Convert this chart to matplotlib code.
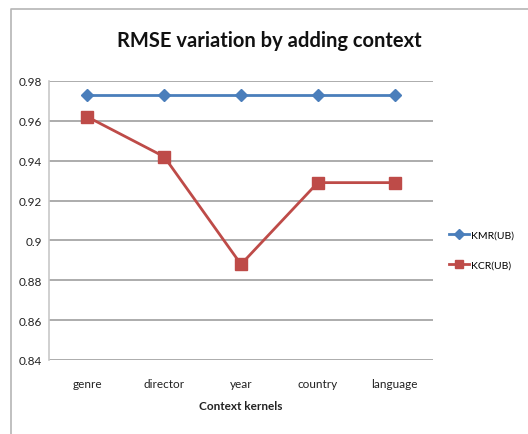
import matplotlib.pyplot as plt
from matplotlib.lines import Line2D

plt.rcParams['font.family'] = ['Lato', 'DejaVu Sans']

categories = ['genre', 'director', 'year', 'country', 'language']
kmr_ub = [0.973, 0.973, 0.973, 0.973, 0.973]
kcr_ub = [0.962, 0.942, 0.888, 0.929, 0.929]
yticks = [0.84, 0.86, 0.88, 0.9, 0.92, 0.94, 0.96, 0.98]
ytick_labels = ['0.84', '0.86', '0.88', '0.9', '0.92', '0.94', '0.96', '0.98']

W, H = 528, 435
fig = plt.figure(figsize=(W / 100, H / 100), dpi=100)
ax = fig.add_axes([49 / W, 1 - 361 / H, (433 - 49) / W, (361 - 82) / H])

x = range(len(categories))
ax.plot(x, kmr_ub, color='#4a7ebb', lw=2, marker='D', ms=6, label='KMR(UB)')
ax.plot(x, kcr_ub, color='#be4b48', lw=2, marker='s', ms=8, label='KCR(UB)')

ax.set_xlim(-0.5, len(categories) - 0.5)
ax.set_ylim(0.84, 0.98)
ax.set_yticks(yticks)
ax.set_yticklabels(ytick_labels)
ax.set_xticks(list(x))
ax.set_xticklabels(categories)
ax.tick_params(length=0, labelsize=8.5, colors='#222222')
ax.tick_params(axis='x', pad=13)
ax.tick_params(axis='y', pad=5)
ax.yaxis.grid(True, color='#a6a6a6', lw=1.3)
ax.set_axisbelow(True)
for s in ['top', 'right', 'bottom']:
    ax.spines[s].set_visible(False)
ax.spines['left'].set_color('#c8c8c8')
ax.spines['left'].set_linewidth(1.2)

ax.set_xlabel('Context kernels', fontsize=8.5, fontweight='bold', color='#222222', labelpad=8)
fig.text(269 / W, 1 - 41 / H, 'RMSE variation by adding context', fontsize=14.5,
         fontweight='bold', ha='center', va='center', color='#111111')

ax.legend(loc='center left', bbox_to_anchor=(449 / W, 1 - 251 / H), bbox_transform=fig.transFigure,
          frameon=False, fontsize=7.5, labelspacing=2.0, handlelength=1.9, handletextpad=0.2,
          borderpad=0, borderaxespad=0, markerscale=0.8)

# outer chart border (left and top edges visible)
fig.add_artist(Line2D([11 / W, 11 / W, 1], [0, 1 - 10 / H, 1 - 10 / H], color='#b5b5b5', lw=1.2))

fig.savefig('out.png', dpi=100)
